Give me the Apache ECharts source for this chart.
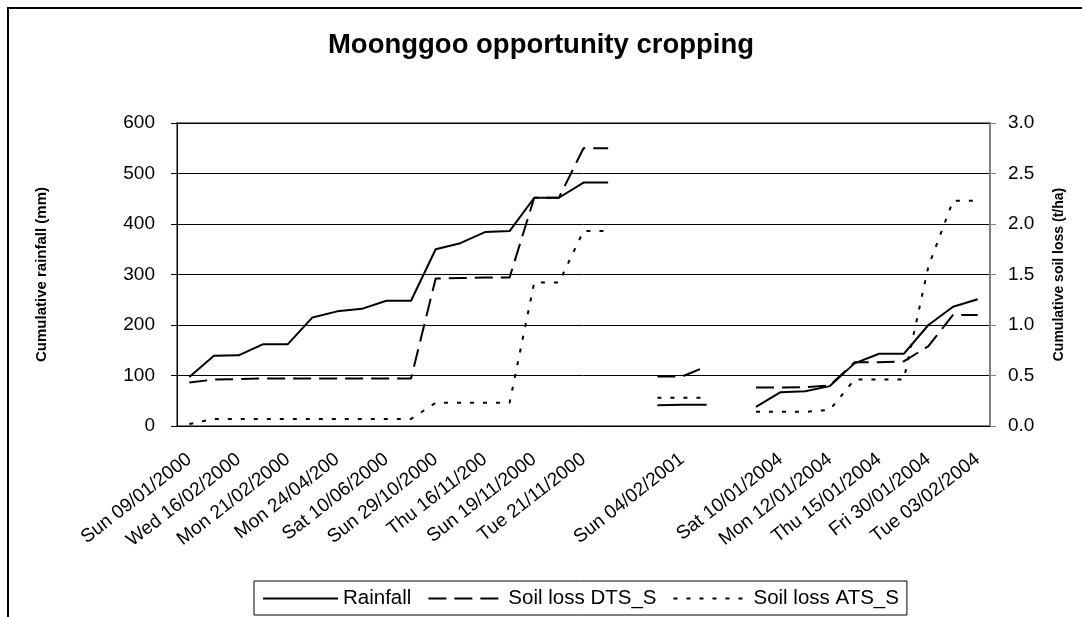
<!DOCTYPE html>
<html>
<head>
<meta charset="utf-8">
<title>Moonggoo opportunity cropping</title>
<script src="https://cdn.jsdelivr.net/npm/echarts@6/dist/echarts.min.js"></script>
<style>
  html, body { margin: 0; padding: 0; background: #fff; }
  #chart { width: 1082px; height: 617px; }
</style>
</head>
<body>
<div id="chart"></div>
<script>
// only every other date is printed on the axis, the rest stay blank
const dates = [
  'Sun 09/01/2000', '', 'Wed 16/02/2000', '', 'Mon 21/02/2000', '', 'Mon 24/04/200', '',
  'Sat 10/06/2000', '', 'Sun 29/10/2000', '', 'Thu 16/11/200', '', 'Sun 19/11/2000', '',
  'Tue 21/11/2000', '', '', '', 'Sun 04/02/2001', '', '', '',
  'Sat 10/01/2004', '', 'Mon 12/01/2004', '', 'Thu 15/01/2004', '', 'Fri 30/01/2004', '',
  'Tue 03/02/2004'
]

// cumulative rainfall (mm), left axis
const rainfall = [
  97, 139, 140, 162, 162, 215, 227, 232, 248, 248, 350, 362, 384, 386, 452, 452, 482, 482,
  null, 41, 42, 42, null,
  38, 67, 69, 79, 124, 143, 143, 200, 236, 251
]

// cumulative soil loss (t/ha), right axis
const soilLossDTS = [
  0.43, 0.46, 0.465, 0.47, 0.47, 0.47, 0.47, 0.47, 0.47, 0.47, 1.46, 1.465, 1.47, 1.47, 2.26, 2.26, 2.75, 2.75,
  null, 0.49, 0.49, 0.59, null,
  0.38, 0.38, 0.385, 0.40, 0.63, 0.63, 0.64, 0.79, 1.10, 1.10
]
const soilLossATS = [
  0.02, 0.07, 0.07, 0.07, 0.07, 0.07, 0.07, 0.07, 0.07, 0.07, 0.23, 0.23, 0.23, 0.23, 1.42, 1.42, 1.93, 1.93,
  null, 0.28, 0.28, 0.28, null,
  0.14, 0.14, 0.14, 0.16, 0.46, 0.46, 0.46, 1.58, 2.23, 2.23
]

const rainTicks = [0, 600, 100]
const lossTicks = [0, 3, 0.5]

const font = "'Liberation Sans', Arial, sans-serif"

const chart = echarts.init(document.getElementById('chart'))

const lineSeries = (name, data, yIndex, dash) => ({
  name: name,
  type: 'line',
  yAxisIndex: yIndex,
  data: data,
  symbol: 'none',
  connectNulls: false,
  animation: false,
  itemStyle: { color: '#000' },
  lineStyle: { color: '#000', width: 2, type: dash }
})

const option = {
  backgroundColor: '#fff',
  animation: false,
  title: {
    text: 'Moonggoo opportunity cropping',
    left: 'center',
    top: 31,
    padding: 0,
    textStyle: { fontFamily: font, fontSize: 27.5, fontWeight: 'bold', color: '#000' }
  },
  graphic: [
    {
      type: 'rect',
      shape: { x: 8, y: 8, width: 1200, height: 800 },
      style: { fill: 'none', stroke: '#000', lineWidth: 2 },
      silent: true
    }
  ],
  grid: {
    left: 177,
    right: 92,
    top: 123,
    bottom: 191,
    show: true,
    borderColor: '#808080',
    borderWidth: 2
  },
  legend: {
    left: 254,
    top: 581,
    padding: [7, 8, 6, 8],
    itemGap: 16,
    itemWidth: 75,
    itemHeight: 14,
    borderColor: '#000',
    borderWidth: 1,
    itemStyle: { color: 'rgba(0,0,0,0)', borderWidth: 0, opacity: 0 },
    textStyle: { fontFamily: font, fontSize: 20.5, color: '#000' },
    data: ['Rainfall', 'Soil loss DTS_S', 'Soil loss ATS_S']
  },
  xAxis: {
    type: 'category',
    data: dates,
    boundaryGap: true,
    axisLine: { lineStyle: { color: '#000', width: 1 } },
    axisTick: { interval: 0, length: 6, lineStyle: { color: '#000' } },
    axisLabel: {
      interval: 1,
      rotate: 38,
      margin: 31,
      fontFamily: font,
      fontSize: 19,
      color: '#000'
    }
  },
  yAxis: [
    {
      type: 'value',
      min: rainTicks[0],
      max: rainTicks[1],
      interval: rainTicks[2],
      name: 'Cumulative rainfall (mm)',
      nameLocation: 'middle',
      nameGap: 128,
      nameTextStyle: { fontFamily: font, fontSize: 15, fontWeight: 'bold', color: '#000' },
      axisLine: { show: true, lineStyle: { color: '#000', width: 1 } },
      axisTick: { show: true, length: 6, lineStyle: { color: '#000' } },
      axisLabel: { margin: 22, fontFamily: font, fontSize: 19, color: '#000' },
      splitLine: { show: true, lineStyle: { color: '#000', width: 1 } }
    },
    {
      type: 'value',
      position: 'right',
      min: lossTicks[0],
      max: lossTicks[1],
      interval: lossTicks[2],
      name: 'Cumulative soil loss (t/ha)',
      nameLocation: 'middle',
      nameGap: 62,
      nameRotate: 90,
      nameTextStyle: { fontFamily: font, fontSize: 14, fontWeight: 'bold', color: '#000' },
      axisLine: { show: true, lineStyle: { color: '#808080', width: 2 } },
      axisTick: { show: true, length: 6, lineStyle: { color: '#808080' } },
      axisLabel: {
        margin: 18,
        fontFamily: font,
        fontSize: 19,
        color: '#000',
        formatter: v => v.toFixed(1)
      },
      splitLine: { show: false }
    }
  ],
  series: [
    lineSeries('Rainfall', rainfall, 0, 'solid'),
    lineSeries('Soil loss DTS_S', soilLossDTS, 1, [18, 8]),
    lineSeries('Soil loss ATS_S', soilLossATS, 1, [4, 9])
  ]
}

chart.setOption(option)
</script>
</body>
</html>
